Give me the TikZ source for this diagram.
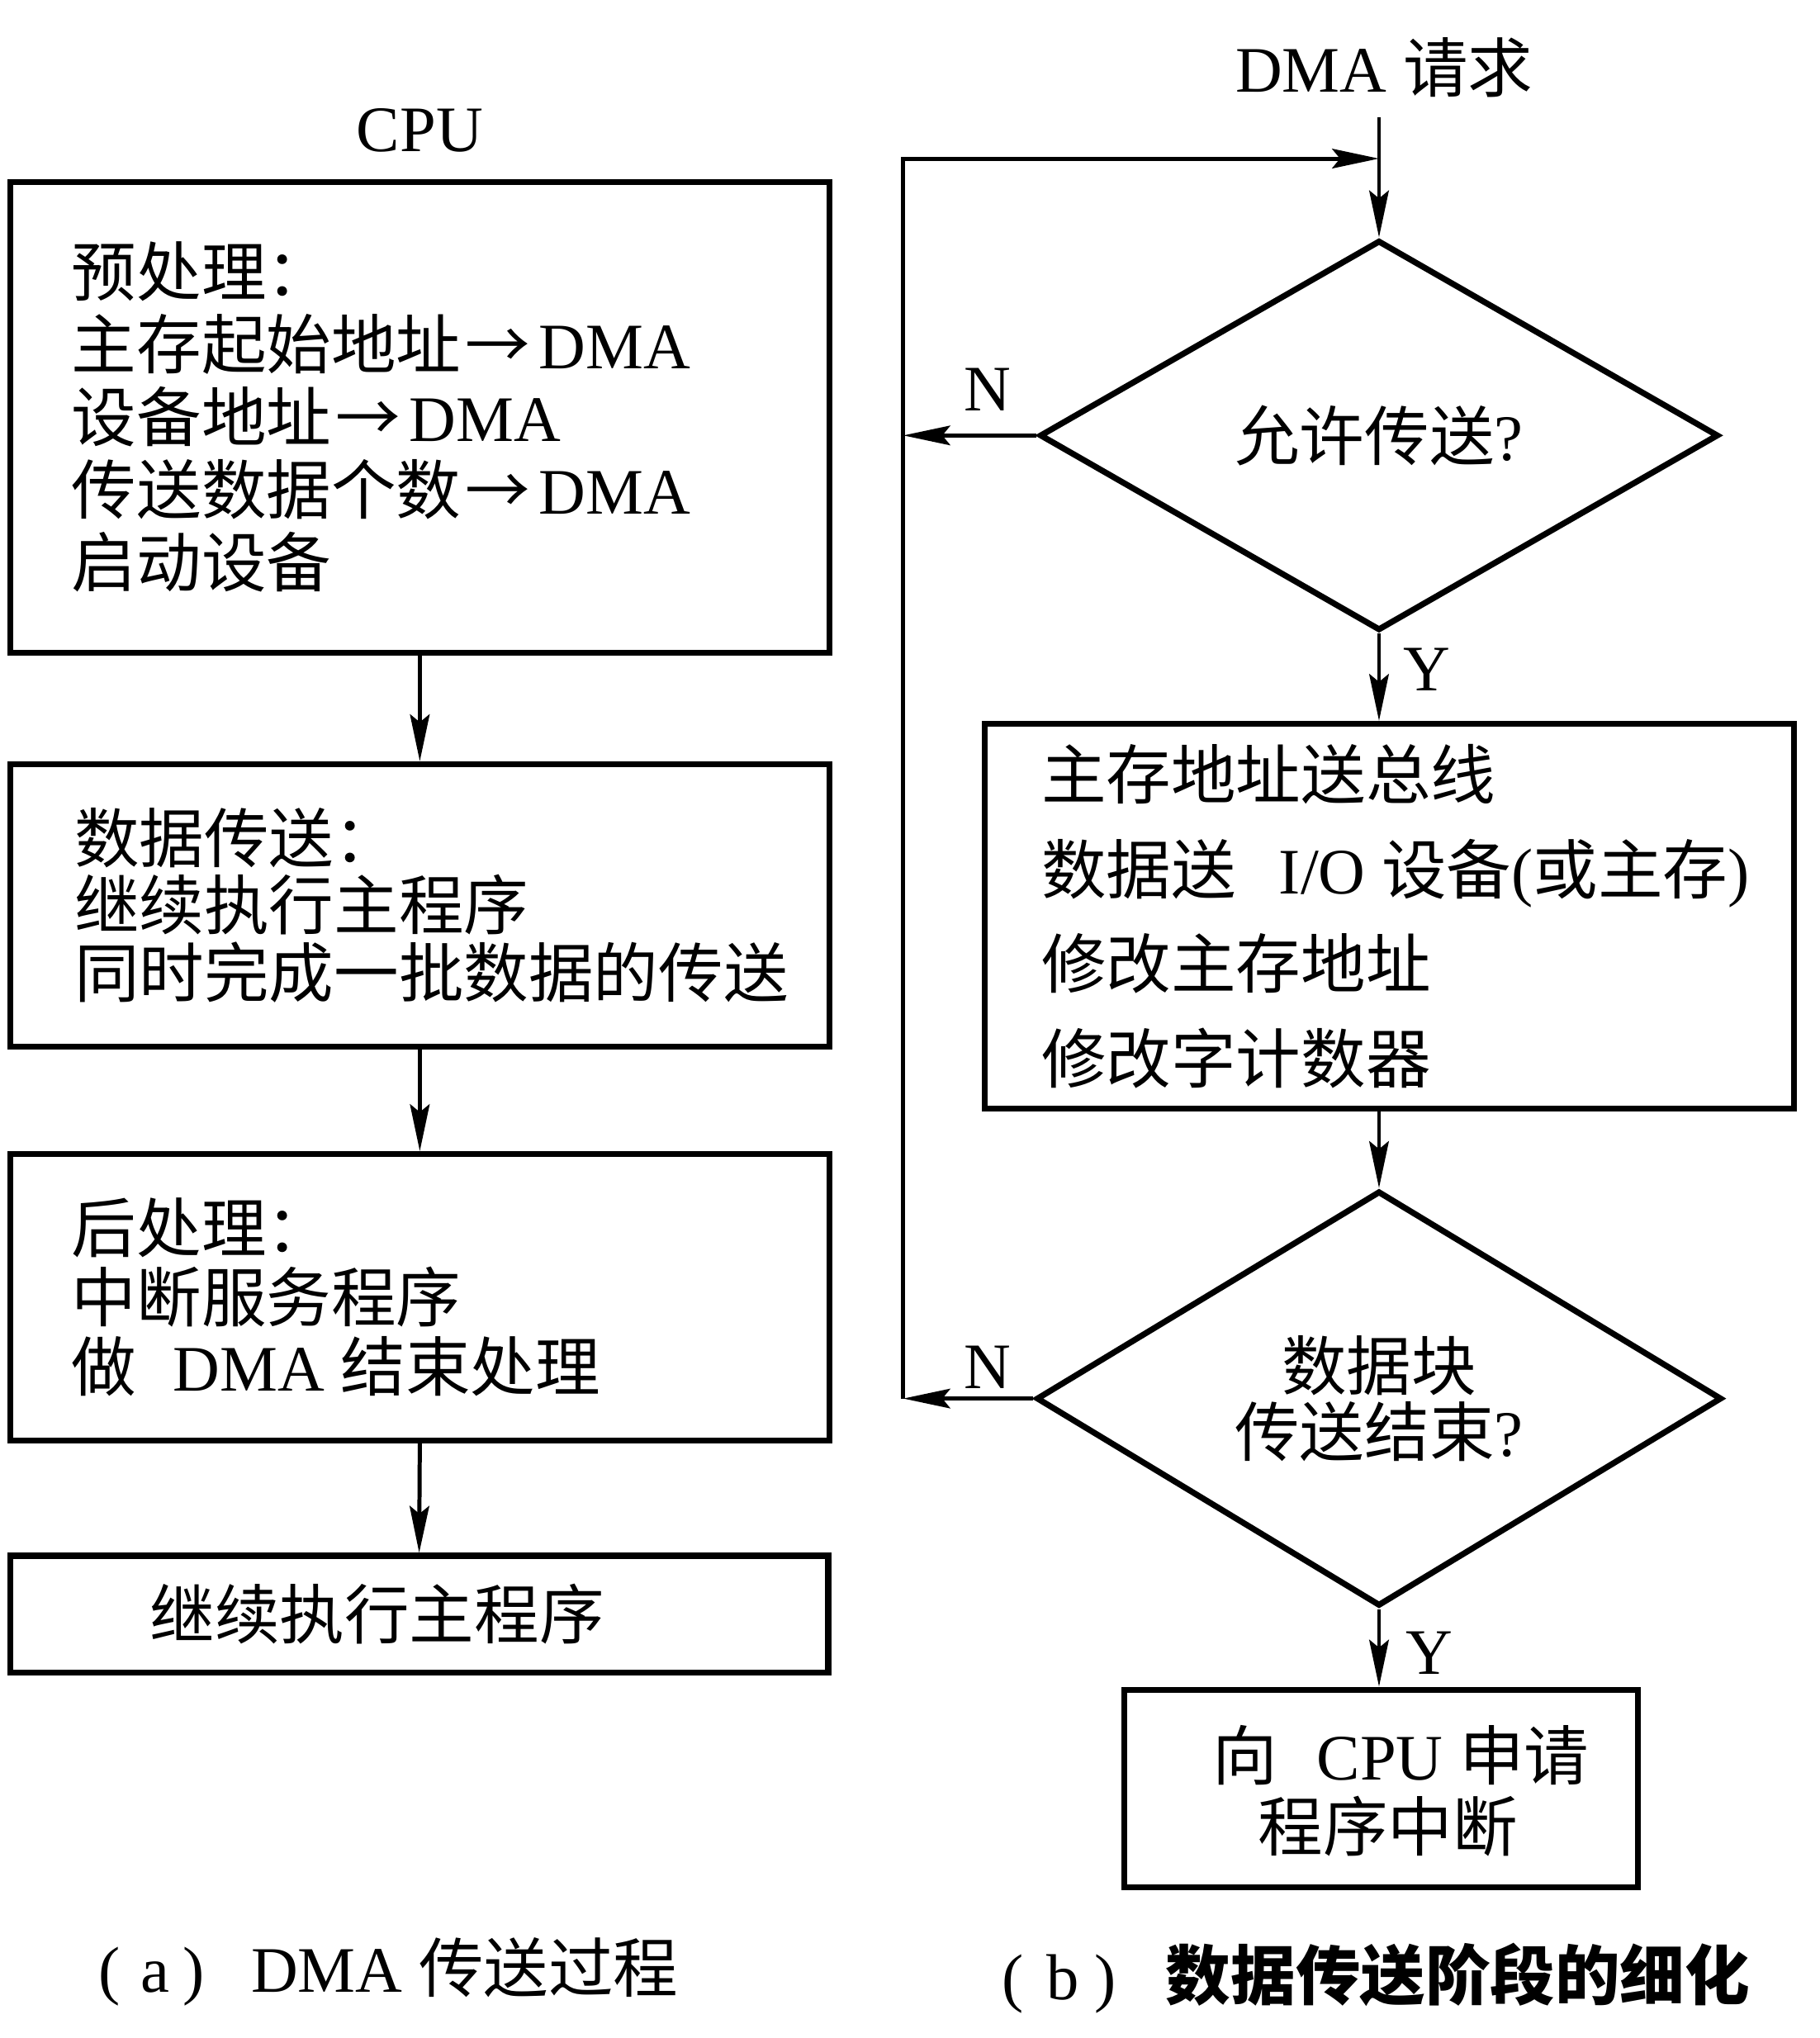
\documentclass[tikz,border=0pt]{standalone}
\usepackage{fontspec}
\setmainfont{Liberation Serif}
\newfontfamily\cjk{Noto Sans CJK SC}
\usetikzlibrary{shapes.geometric,arrows.meta,calc}
\newcommand\Z[1]{{\cjk #1}}
\newcommand\toArr{\hspace{0.03cm}\Z{→}\hspace{0.07cm}}
\tikzset{
  box/.style={draw, line width=1.3pt, rectangle, inner sep=0pt},
  dia/.style={draw, line width=1.3pt, diamond, inner sep=0pt, align=center,
    font=\fontsize{14.2}{14.6}\selectfont},
  txt/.style={inner sep=0pt, align=left, anchor=west},
  lbl/.style={inner sep=0pt, font=\fontsize{14.2}{16}\selectfont},
  arr/.style={line width=0.9pt, -{Stealth[length=3.6mm,width=1.5mm,inset=0.6mm]}},
  conn/.style={line width=0.9pt}
}
\begin{document}
\begin{tikzpicture}[x=0.01cm,y=-0.01cm]
\useasboundingbox (0,0) rectangle (1400,1568);
\fill[white] (0,0) rectangle (1400,1568);

% ---------- left column ----------
\node[lbl] (cpu) at (323,100) {CPU};

\node[box, minimum width=6.30cm, minimum height=3.62cm] (b1) at (323,321) {};
\node[txt, font=\fontsize{14.2}{15.9}\selectfont] (t1) at ([xshift=0.49cm]b1.west)
  {\Z{预处理：}\\
   \Z{主存起始地址}\toArr DMA\\
   \Z{设备地址}\toArr DMA\\
   \Z{传送数据个数}\toArr DMA\\
   \Z{启动设备}};

\node[box, minimum width=6.30cm, minimum height=2.17cm] (b2) at (323,696.5) {};
\node[txt, font=\fontsize{14.2}{14.7}\selectfont] (t2) at ([xshift=0.51cm]b2.west)
  {\Z{数据传送：}\\
   \Z{继续执行主程序}\\
   \Z{同时完成一批数据的传送}};

\node[box, minimum width=6.30cm, minimum height=2.20cm] (b3) at (323,998) {};
\node[txt, font=\fontsize{14.2}{15.2}\selectfont] (t3) at ([xshift=0.49cm]b3.west)
  {\Z{后处理：}\\
   \Z{中断服务程序}\\
   \Z{做}\hspace{0.28cm}DMA \Z{结束处理}};

\node[box, minimum width=6.29cm, minimum height=0.90cm] (b4) at (322.5,1242) {};
\node[txt, font=\fontsize{14.2}{16}\selectfont] (t4) at ([xshift=1.09cm]b4.west)
  {\Z{继续执行主程序}};

\draw[arr] (b1.south) -- (b2.north);
\draw[arr] (b2.south) -- (b3.north);
\draw[arr] (b3.south) -- (b4.north);

\node[txt, font=\fontsize{14.2}{16}\selectfont] (capa) at (75,1517)
  {(\hspace{0.16cm}a\hspace{0.10cm})\hspace{0.36cm}DMA \Z{传送过程}};

% ---------- right column ----------
\node[lbl] (req) at (1065,52) {DMA \Z{请求}};

\node[dia, minimum width=5.22cm, minimum height=3.00cm] (d1) at (1061,335) {\Z{允许传送}?};

\node[box, minimum width=6.22cm, minimum height=2.96cm] (b5) at (1069,705) {};
\node[txt, font=\fontsize{14.2}{20.7}\selectfont] (t5) at ([xshift=0.45cm]b5.west)
  {\Z{主存地址送总线}\\
   \Z{数据送}\hspace{0.33cm}I/O \Z{设备}(\Z{或主存})\\
   \Z{修改主存地址}\\
   \Z{修改字计数器}};

\node[dia, minimum width=5.27cm, minimum height=3.03cm] (d2) at (1061,1076) {\Z{数据块}\\\Z{传送结束}?};

\node[box, minimum width=3.95cm, minimum height=1.52cm] (b6) at (1062.5,1376) {};
\node[lbl, align=center, font=\fontsize{14.2}{15.6}\selectfont] (t6) at (1078,1378)
  {\Z{向}\hspace{0.30cm}CPU \Z{申请}\\\hspace*{-0.2cm}\Z{程序中断}};

\coordinate (rs) at (1061,90);
\coordinate (lt) at (695,122);
\coordinate (j)  at (d1.north |- lt);
\coordinate (n1) at (d1.west -| lt);
\coordinate (n2) at (d2.west -| lt);

\draw[arr] (rs) -- (d1.north);
\draw[arr] (d1.south) -- (d1.south |- b5.north);
\draw[arr] (d2.north |- b5.south) -- (d2.north);
\draw[arr] (d2.south) -- (d2.south |- b6.north);
\draw[arr] (d1.west) -- (n1);
\draw[arr] (d2.west) -- (n2);
\draw[arr] (n2) -- (lt) -- (j);

\node[lbl] (N1) at (760,300) {N};
\node[lbl] (N2) at (760,1052) {N};
\node[lbl] (Y1) at (1098,515) {Y};
\node[lbl] (Y2) at (1100,1272) {Y};

\node[txt, font=\fontsize{14.2}{16}\selectfont] (capb) at (770,1522)
  {(\hspace{0.18cm}b\hspace{0.12cm})\hspace{0.38cm}{\cjk\bfseries 数据传送阶段的细化}};
\end{tikzpicture}
\end{document}
